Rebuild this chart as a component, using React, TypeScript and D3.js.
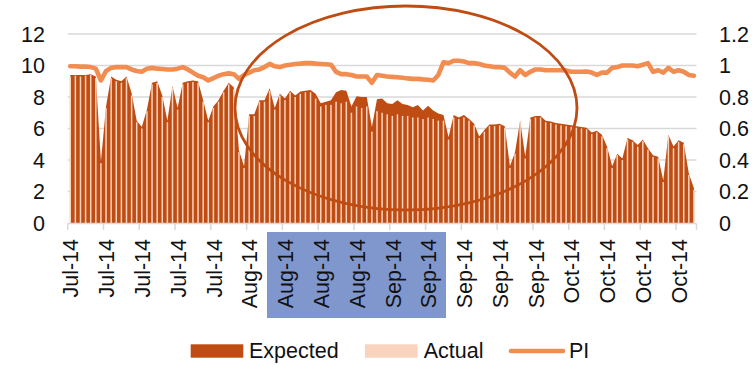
import React from "react";
import * as d3 from "d3";

const expected: number[] = [
  9.4, 9.4, 9.4, 9.4, 9.45, 9.3, 3.9, 7.4, 9.3, 9.1, 9.0, 9.3, 8.25, 6.5, 6.1, 7.2, 8.9, 9.0, 8.1, 6.5,
  8.7, 7.3, 8.9, 9.0, 9.05, 9.0, 7.8, 6.5, 7.4, 7.8, 8.4, 8.9, 8.6, 4.6, 3.6, 6.9, 6.9, 7.8, 7.8, 8.55,
  7.3, 8.2, 7.9, 8.4, 8.1, 8.35, 8.4, 8.45, 8.2, 7.6, 7.7, 7.8, 8.3, 8.45, 8.4, 7.4, 8.05, 8.0, 8.0, 6.1,
  7.85, 7.9, 7.6, 7.55, 7.8, 7.55, 7.5, 7.35, 7.5, 7.15, 7.45, 7.15, 6.95, 6.85, 5.45, 6.85, 6.7, 6.85, 6.6, 6.3,
  5.5, 5.9, 6.25, 6.25, 6.3, 6.15, 3.6, 4.5, 6.5, 4.2, 6.7, 6.8, 6.8, 6.5, 6.45, 6.35, 6.3, 6.25, 6.2, 6.15,
  6.1, 6.05, 5.75, 5.85, 5.6, 4.85, 3.6, 4.4, 4.1, 5.4, 5.25, 4.95, 5.3, 4.75, 4.3, 4.2, 2.7, 5.6, 4.85, 5.25,
  5.1, 3.15, 2.2,
];

const actual: number[] = [
  9.3, 9.35, 9.3, 9.35, 9.4, 9.2, 3.8, 7.3, 9.2, 9.0, 8.9, 9.2, 8.1, 6.4, 6.0, 7.1, 8.8, 8.9, 8.0, 6.4,
  8.6, 7.2, 8.8, 8.9, 8.95, 8.9, 7.7, 6.4, 7.3, 7.7, 8.3, 8.8, 8.5, 4.5, 3.5, 6.8, 6.8, 7.7, 7.7, 8.4,
  7.2, 8.1, 7.8, 8.3, 8.0, 8.2, 8.3, 8.3, 7.9, 7.4, 7.5, 7.5, 7.7, 7.6, 7.7, 7.0, 7.4, 7.3, 7.4, 5.8,
  7.1, 7.0, 6.9, 6.8, 6.9, 6.8, 6.8, 6.7, 6.7, 6.6, 6.7, 6.6, 6.5, 6.5, 5.3, 6.7, 6.6, 6.7, 6.5, 6.2,
  5.4, 5.8, 6.15, 6.15, 6.2, 6.05, 3.5, 4.4, 6.4, 4.1, 6.6, 6.7, 6.7, 6.4, 6.35, 6.25, 6.2, 6.15, 6.1, 6.05,
  6.0, 5.95, 5.65, 5.75, 5.5, 4.75, 3.5, 4.3, 4.0, 5.3, 5.15, 4.85, 5.2, 4.65, 4.2, 4.1, 2.6, 5.5, 4.75, 5.15,
  5.0, 3.05, 2.1,
];

const pi: number[] = [
  0.995, 0.995, 0.993, 0.993, 0.99, 0.98, 0.905, 0.965, 0.985, 0.99, 0.99, 0.99, 0.975, 0.965, 0.96, 0.98, 0.985, 0.98, 0.978, 0.975,
  0.975, 0.98, 0.99, 0.975, 0.955, 0.935, 0.925, 0.905, 0.92, 0.935, 0.945, 0.95, 0.945, 0.915, 0.94, 0.955, 0.97, 0.975, 0.99, 1.01,
  0.995, 0.99, 1.0, 1.005, 1.01, 1.012, 1.015, 1.015, 1.012, 1.01, 1.008, 1.005, 0.96, 0.945, 0.945, 0.94, 0.93, 0.93, 0.93, 0.89,
  0.94, 0.935, 0.93, 0.928, 0.925, 0.922, 0.918, 0.915, 0.915, 0.912, 0.91, 0.905, 0.94, 1.02, 1.015, 1.03, 1.03, 1.025, 1.015, 1.015,
  1.01, 1.0, 0.995, 0.99, 0.99, 0.985, 0.955, 0.93, 0.97, 0.94, 0.96, 0.975, 0.975, 0.97, 0.97, 0.97, 0.97, 0.968, 0.96, 0.96,
  0.96, 0.962, 0.955, 0.94, 0.955, 0.955, 0.985, 0.99, 1.0, 1.0, 1.0, 0.995, 1.005, 1.015, 0.96, 0.97, 0.955, 0.985, 0.96, 0.97,
  0.96, 0.94, 0.935,
];

const tickLabels: string[] = [
  "Jul-14", "Jul-14", "Jul-14", "Jul-14", "Jul-14",
  "Aug-14", "Aug-14", "Aug-14", "Aug-14",
  "Sep-14", "Sep-14", "Sep-14", "Sep-14", "Sep-14",
  "Oct-14", "Oct-14", "Oct-14", "Oct-14",
];
const tickEvery = 7;
const leftTicks: number[] = [0, 2, 4, 6, 8, 10, 12];
const rightTicks: number[] = [0, 0.2, 0.4, 0.6, 0.8, 1, 1.2];

const W = 756;
const H = 367;
const FONT = "'Liberation Sans', Arial, sans-serif";
const DARK = "#BF4D13";
const LIGHT = "#F9D3BD";
const PI_COLOR = "#F28D52";
const GRID = "#D9D9D9";

export default function App() {
  const n = expected.length;
  const x = d3.scaleBand<number>().domain(d3.range(n)).range([67.7, 696.5]).paddingInner(0).paddingOuter(0);
  const bw = x.bandwidth();
  const cx = (i: number) => (x(i) as number) + bw / 2;
  const yL = d3.scaleLinear().domain([0, 12]).range([223, 34]);
  const yR = d3.scaleLinear().domain([0, 1.2]).range([223, 34]);

  const area = d3
    .area<number>()
    .x((_, i) => cx(i))
    .y0(yL(0))
    .y1((d) => yL(d))(expected) as string;
  const line = d3
    .line<number>()
    .x((_, i) => cx(i))
    .y((d) => yR(d))
    .curve(d3.curveLinear)(pi) as string;

  const tickIdx = d3.range(0, n, tickEvery).slice(0, tickLabels.length);

  return (
    <svg width={W} height={H} style={{ position: "absolute", left: 0, top: 0, background: "#fff" }} fontFamily={FONT}>
      {/* label highlight */}
      <rect x={267} y={232} width={179} height={86} fill="#8097CD" />
      {/* gridlines */}
      {leftTicks.slice(1).map((t) => (
        <line key={t} x1={67.7} x2={696.5} y1={yL(t)} y2={yL(t)} stroke={GRID} strokeWidth={1.5} />
      ))}
      {/* expected area */}
      <path d={area} fill={DARK} />
      {/* actual columns */}
      {actual.map((a, i) => (
        <rect key={i} x={cx(i) - 0.75} width={1.5} y={yL(a)} height={yL(0) - yL(a)} fill={LIGHT} />
      ))}
      {/* PI line */}
      <path d={line} fill="none" stroke={PI_COLOR} strokeWidth={4.6} strokeLinejoin="round" strokeLinecap="round" />
      {/* axis */}
      <line x1={67.7} x2={696.5} y1={223.5} y2={223.5} stroke={GRID} strokeWidth={1.5} />
      {tickIdx.map((i) => (
        <line key={i} x1={x(i) as number} x2={x(i) as number} y1={223.5} y2={230} stroke={GRID} strokeWidth={1.5} />
      ))}
      <line x1={696.5} x2={696.5} y1={223.5} y2={230} stroke={GRID} strokeWidth={1.5} />
      {/* ellipse annotation */}
      <ellipse cx={406} cy={108} rx={171} ry={102} fill="none" stroke={DARK} strokeWidth={2.8} />
      {/* left axis labels */}
      {leftTicks.map((t) => (
        <text key={t} x={45} y={yL(t)} dy="0.36em" textAnchor="end" fontSize={21.5} fill="#111">
          {t}
        </text>
      ))}
      {/* right axis labels */}
      {rightTicks.map((t) => (
        <text key={t} x={719} y={yR(t)} dy="0.36em" textAnchor="start" fontSize={21.5} fill="#111">
          {d3.format("~g")(t)}
        </text>
      ))}
      {/* x labels */}
      {tickIdx.map((i, k) => (
        <text
          key={i}
          transform={`translate(${(x(i) as number) + 3},239) rotate(-90)`}
          dy="0.36em"
          textAnchor="end"
          fontSize={21.5}
          fill="#111"
        >
          {tickLabels[k]}
        </text>
      ))}
      {/* legend */}
      <rect x={190.7} y={344.3} width={52.6} height={13.4} fill={DARK} />
      <text x={249} y={358} fontSize={21.5} fill="#111">Expected</text>
      <rect x={365} y={344.3} width={52.6} height={13.4} fill={LIGHT} />
      <text x={423.7} y={358} fontSize={21.5} fill="#111">Actual</text>
      <line x1={511} x2={563} y1={351} y2={351} stroke={PI_COLOR} strokeWidth={4.6} strokeLinecap="round" />
      <text x={569} y={358} fontSize={21.5} fill="#111">PI</text>
    </svg>
  );
}
